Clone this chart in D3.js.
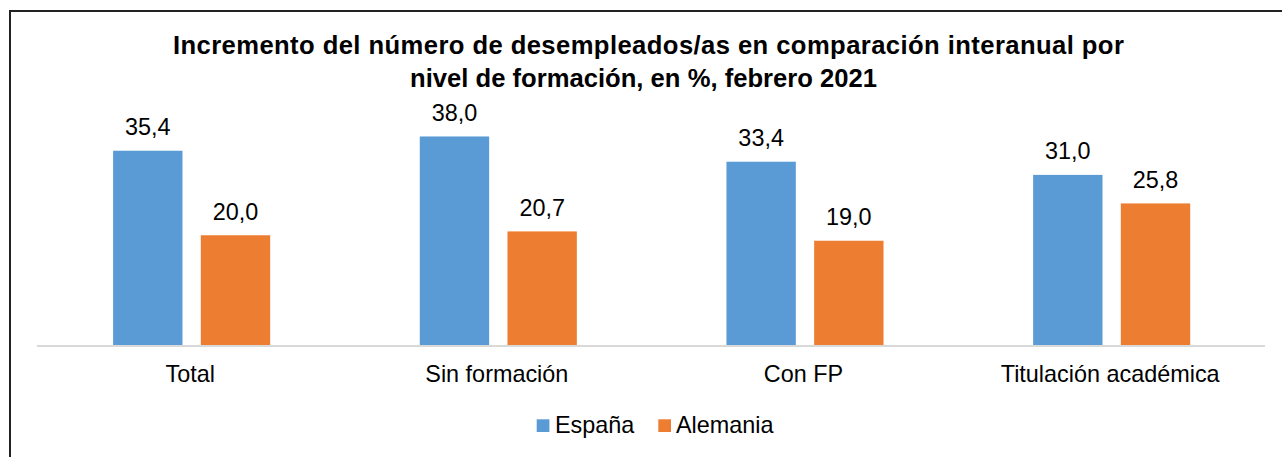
<!DOCTYPE html>
<html>
<head>
<meta charset="utf-8">
<script src="https://cdn.jsdelivr.net/npm/d3@7"></script>
<style>
  html, body { margin: 0; padding: 0; background: #fff; }
  svg { display: block; }
  text { font-family: "Liberation Sans", Arial, sans-serif; fill: #000; }
</style>
</head>
<body>
<svg id="chart" width="1282" height="457"></svg>
<script>
const categories = ["Total", "Sin formación", "Con FP", "Titulación académica"];
const seriesNames = ["España", "Alemania"];
const espana = [35.4, 38.0, 33.4, 31.0];
const alemania = [20.0, 20.7, 19.0, 25.8];
const colors = ["#5B9BD5", "#ED7D31"];
const titleLines = ["Incremento del número de desempleados/as en comparación interanual por", "nivel de formación, en %, febrero 2021"];

const values = [espana, alemania];
const data = categories.map((c, i) => ({ cat: c, vals: seriesNames.map((s, j) => ({ s, j, v: values[j][i] })) }));

const svg = d3.select("#chart");
const fmt = v => d3.format(".1f")(v).replace(".", ",");

// outer border (only left & top visible)
svg.append("rect").attr("x", 10).attr("y", 11).attr("width", 1300).attr("height", 500)
  .attr("fill", "none").attr("stroke", "#222").attr("stroke-width", 2);

// title
const titleLayout = [{ cx: 648.4, y: 53.5, len: 951 }, { cx: 643.5, y: 86.5, len: 467 }];
svg.append("g").selectAll("text").data(titleLines).join("text")
  .attr("x", (d, i) => titleLayout[i].cx).attr("y", (d, i) => titleLayout[i].y)
  .attr("text-anchor", "middle").attr("font-weight", "bold").attr("font-size", "25.6px")
  .attr("textLength", (d, i) => titleLayout[i].len).attr("lengthAdjust", "spacing")
  .text(d => d);

const x0 = d3.scaleBand().domain(categories).range([38.3, 1265]).paddingInner(0).paddingOuter(0);
const x1 = d3.scaleBand().domain(seriesNames).range([0, x0.bandwidth()]).paddingInner(0.209).paddingOuter(0.853);
const y = d3.scaleLinear().domain([0, 40]).range([345, 125.5]);

// axis baseline
const xAxis = d3.axisBottom(x0).tickSize(0).tickPadding(0);
const ax = svg.append("g").attr("transform", "translate(0,346)").call(xAxis);
ax.select(".domain").attr("stroke", "#d9d9d9").attr("stroke-width", 2).attr("d", "M37,0H1265");
ax.selectAll(".tick text").attr("font-size", "23.4px").attr("y", 36.3).attr("dy", 0).attr("x", -1.5)
  .attr("fill", "#000").attr("font-family", "Liberation Sans, Arial, sans-serif");

const groups = svg.append("g").selectAll("g").data(data).join("g")
  .attr("transform", d => `translate(${x0(d.cat)},0)`);

groups.selectAll("rect").data(d => d.vals).join("rect")
  .attr("x", d => x1(d.s)).attr("width", x1.bandwidth())
  .attr("y", d => y(d.v)).attr("height", d => y(0) - y(d.v))
  .attr("fill", d => colors[d.j]);

groups.selectAll("text.val").data(d => d.vals).join("text").attr("class", "val")
  .attr("x", d => x1(d.s) + x1.bandwidth() / 2).attr("y", d => y(d.v) - 15.7)
  .attr("text-anchor", "middle").attr("font-size", "23.4px")
  .text(d => fmt(d.v));

// legend
const legendItems = [{ name: seriesNames[0], x: 536.7, tx: 555 }, { name: seriesNames[1], x: 658.3, tx: 676 }];
const lg = svg.append("g").selectAll("g").data(legendItems).join("g");
lg.append("rect").attr("x", d => d.x).attr("y", 419.3).attr("width", 12.7).attr("height", 12.7)
  .attr("fill", (d, i) => colors[i]);
lg.append("text").attr("x", d => d.tx).attr("y", 433.3).attr("font-size", "23.4px").text(d => d.name);
</script>
</body>
</html>
